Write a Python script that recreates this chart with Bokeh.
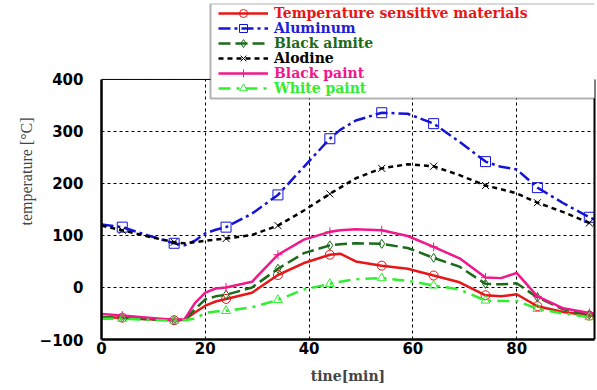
from bokeh.plotting import figure
from bokeh.models import (Legend, LegendItem, BoxAnnotation, FixedTicker, Range1d,
                          LinearAxis, Span)
from bokeh.embed import file_html
from bokeh.resources import INLINE

# ---- data ----
time = [0, 4, 9, 14, 16, 18, 20, 22, 24, 29, 34, 39, 44, 46, 49, 54, 59, 64, 69, 74, 77, 80, 84, 89, 94, 95]
marker_time = [4, 14, 24, 34, 44, 54, 64, 74, 84, 94]

temp_sensitive = [-57, -58, -61, -63, -62, -48, -35, -27, -22, -10, 24, 47, 63, 65, 50, 42, 36, 23, 10, -15, -17, -13, -36, -47, -54, -55]
aluminum = [121, 116, 100, 85, 81, 90, 104, 111, 116, 142, 178, 232, 286, 303, 321, 336, 334, 315, 280, 242, 232, 227, 192, 162, 135, 131]
black_almite = [-57, -58, -61, -63, -62, -42, -23, -17, -14, 0, 36, 66, 81, 83, 85, 84, 76, 57, 40, 7, 6, 8, -19, -42, -52, -53]
alodine = [119, 110, 98, 87, 85, 87, 90, 92, 94, 101, 119, 148, 180, 192, 210, 229, 237, 233, 216, 196, 189, 181, 163, 145, 124, 121]
black_paint = [-51, -54, -58, -62, -61, -30, -10, -2, 0, 11, 63, 92, 107, 110, 112, 110, 99, 78, 56, 19, 18, 28, -17, -40, -49, -50]
white_paint = [-60, -60, -62, -64, -63, -60, -49, -46, -45, -38, -24, -4, 7, 11, 16, 18, 13, 4, -4, -25, -26, -26, -41, -50, -57, -58]

x_ticks = [0, 20, 40, 60, 80]
y_ticks = [-100, 0, 100, 200, 300, 400]
y_min, y_max = -100, 400

series = [
    ("Temperature sensitive materials", temp_sensitive, "#e81616", "solid", "circle", "#e81616"),
    ("Aluminum", aluminum, "#1414d8", "12 4 3 4", "square", "#2020d8"),
    ("Black almite", black_almite, "#1b6b1b", "12 5", "diamond", "#1b6b1b"),
    ("Alodine", alodine, "#000000", "5 4", "x", "#000000"),
    ("Black paint", black_paint, "#f0188a", "solid", "cross", "#f0188a"),
    ("White paint", white_paint, "#30ee30", "12 6 3 6", "triangle", "#30ee30"),
]

# the frame reaches up to the top so the legend may overlap the plot's top edge
p = figure(width=597, height=390, output_backend="svg", toolbar_location=None,
           x_range=Range1d(0, 95), y_range=Range1d(-100, 546),
           min_border_left=101, min_border_right=3, min_border_top=3, min_border_bottom=51)

p.outline_line_color = None
p.background_fill_color = "white"

for ax in (p.xaxis[0], p.yaxis[0]):
    ax.axis_line_width = 2.5
    ax.major_tick_out = 0
    ax.major_tick_in = 0
    ax.minor_tick_out = 0
    ax.minor_tick_in = 0
    ax.major_label_text_font = "DejaVu Sans"
    ax.major_label_text_font_style = "bold"
    ax.major_label_text_font_size = "15px"
    ax.major_label_text_color = "black"

p.yaxis.bounds = (y_min, y_max)
p.xaxis.ticker = FixedTicker(ticks=x_ticks)
p.yaxis.ticker = FixedTicker(ticks=y_ticks)
p.xaxis.major_label_standoff = 2
p.yaxis.major_label_standoff = 18

p.xaxis.axis_label = "tine[min]"
p.xaxis.axis_label_text_font = "DejaVu Serif"
p.xaxis.axis_label_text_font_style = "bold"
p.xaxis.axis_label_text_font_size = "14px"
p.xaxis.axis_label_standoff = 11

p.yaxis.axis_label = "temperature [\u00b0C]"
p.yaxis.axis_label_text_font = "Liberation Serif"
p.yaxis.axis_label_text_font_style = "normal"
p.yaxis.axis_label_text_font_size = "16px"
p.yaxis.axis_label_standoff = 2

# right border as an unlabeled axis
rax = LinearAxis(bounds=(y_min, y_max), ticker=FixedTicker(ticks=[]),
                 axis_line_width=2, major_tick_out=0, major_tick_in=0,
                 minor_tick_out=0, minor_tick_in=0, major_label_text_font_size="0px")
p.add_layout(rax, "right")

for g in (p.xgrid[0], p.ygrid[0]):
    g.grid_line_color = "black"
    g.grid_line_dash = "3 3"
    g.grid_line_width = 1
    g.grid_line_alpha = 1.0
p.xgrid.ticker = FixedTicker(ticks=x_ticks)
p.ygrid.ticker = FixedTicker(ticks=y_ticks)

renderers = []
for name, vals, color, dash, marker, tcol in series:
    ln = p.line(time, vals, line_color=color, line_width=2.5, line_dash=dash)
    mx = [t for t in time if t in marker_time]
    my = [v for t, v in zip(time, vals) if t in marker_time]
    sz = 10 if marker in ("square", "x") else 9
    mk = p.scatter(mx, my, marker=marker, size=sz, line_color=color,
                   fill_color=None, line_width=1)
    renderers.append((name, ln, mk, tcol))

# blank the area above the top of the value axis
cover = BoxAnnotation(bottom=y_max, fill_color="white", fill_alpha=1.0,
                      line_color=None, level="annotation")
p.add_layout(cover)
p.add_layout(Span(location=y_max, dimension="width", line_color="black",
                  line_width=1, level="annotation"))

# legend frame
box = BoxAnnotation(left=210, right=600, top=3, bottom=98,
                    left_units="canvas", right_units="canvas",
                    top_units="canvas", bottom_units="canvas",
                    fill_color="white", fill_alpha=1.0,
                    line_color="black", line_width=2, level="annotation")
p.add_layout(box)

frame_bottom = 339
row_centers = [13, 28, 43, 58, 73, 88]
for (name, ln, mk, tcol), c in zip(renderers, row_centers):
    lg = Legend(items=[LegendItem(label=name, renderers=[ln, mk])],
                location=(117, frame_bottom - c - 10),
                padding=0, margin=0, spacing=0,
                glyph_width=50, glyph_height=20, label_height=20,
                label_standoff=6,
                border_line_color=None, background_fill_alpha=0,
                label_text_font="DejaVu Serif", label_text_font_size="14px",
                label_text_font_style="bold",
                label_text_color=tcol)
    p.add_layout(lg, "center")

open("out.html", "w").write(file_html(p, INLINE))
